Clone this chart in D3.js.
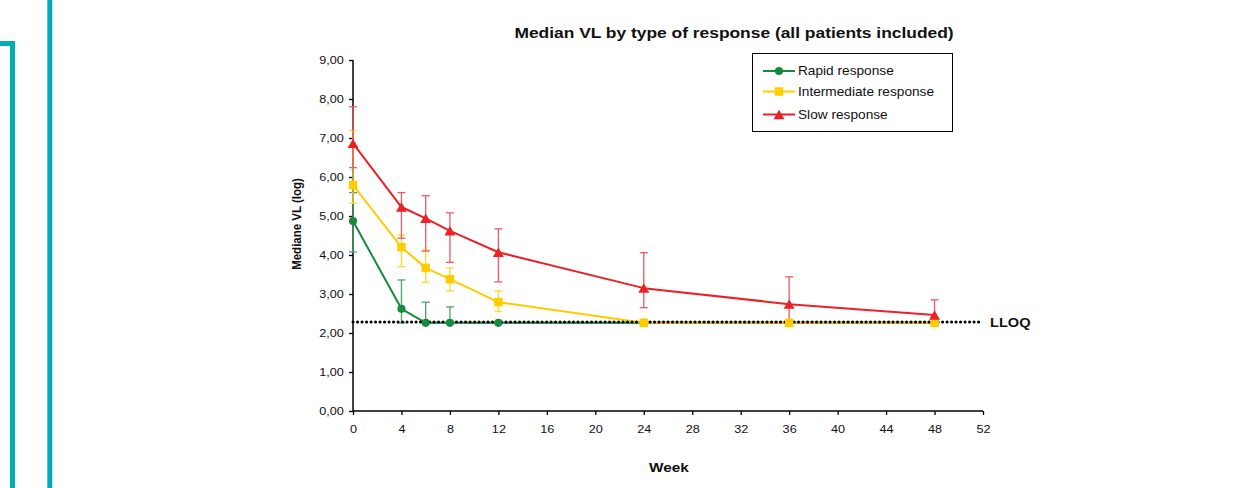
<!DOCTYPE html>
<html>
<head>
<meta charset="utf-8">
<script src="https://cdn.jsdelivr.net/npm/d3@7"></script>
<style>
  body { margin: 0; background: #fff; font-family: "Liberation Sans", Arial, sans-serif; }
  svg text { font-family: "Liberation Sans", Arial, sans-serif; }
</style>
</head>
<body>
<div id="wrapper"></div>
<script>
// weeks on the x axis
const weeks = [0, 4, 6, 8, 12, 24, 36, 48]

// median VL (log) per group
const rapid = [4.87, 2.62, 2.26, 2.26, 2.26, 2.26, 2.26, 2.26]
const intermediate = [5.79, 4.20, 3.67, 3.38, 2.79, 2.26, 2.26, 2.26]
const slow = [6.86, 5.23, 4.94, 4.62, 4.07, 3.15, 2.74, 2.46]

// error bar ends (null = no bar)
const rapidHigh = [5.60, 3.36, 2.79, 2.67, null, null, null, null]
const rapidLow = [4.08, 2.26, 2.26, 2.26, null, null, null, null]
const interHigh = [7.19, 4.51, 4.13, 3.67, 3.08, null, null, null]
const interLow = [5.33, 3.70, 3.30, 3.08, 2.55, null, null, null]
const slowHigh = [7.80, 5.60, 5.52, 5.08, 4.67, 4.06, 3.44, 2.85]
const slowLow = [6.24, 4.43, 4.10, 3.81, 3.31, 2.65, 2.26, 2.26]

const lloq = 2.28
const xTicks = [0, 4, 8, 12, 16, 20, 24, 28, 32, 36, 40, 44, 48, 52]
const yTicks = [0, 1, 2, 3, 4, 5, 6, 7, 8, 9]

const series = [
    {name: "Rapid response", values: rapid, hi: rapidHigh, lo: rapidLow, color: "#178a3e", bar: "#4aa36a", symbol: d3.symbolCircle, size: 52, dy: 0},
    {name: "Intermediate response", values: intermediate, hi: interHigh, lo: interLow, color: "#ffcc00", bar: "#ffd633", symbol: d3.symbolSquare, size: 72, dy: 0},
    {name: "Slow response", values: slow, hi: slowHigh, lo: slowLow, color: "#ec2128", bar: "#ef5a5f", symbol: d3.symbolTriangle, size: 52, dy: 1.5}
]

// the picture is a bit wider than tall, so text gets stretched sideways
const SX = 1.15

const W = 1253, H = 488
const svg = d3.select("#wrapper")
    .append("svg")
    .attr("width", W)
    .attr("height", H)

function label(px, py, txt, size, weight, anchor, sx) {
    return svg.append("text")
        .attr("transform", `translate(${px},${py}) scale(${sx},1)`)
        .attr("text-anchor", anchor)
        .attr("font-size", size)
        .attr("font-weight", weight)
        .attr("fill", "#111")
        .text(txt)
}

// teal frame lines on the left
svg.append("path")
    .attr("d", "M0,43.5 H12.5 V488")
    .attr("fill", "none")
    .attr("stroke", "#00abb6")
    .attr("stroke-width", 5)
svg.append("line")
    .attr("x1", 49.8).attr("x2", 49.8)
    .attr("y1", 0).attr("y2", H)
    .attr("stroke", "#00abb6")
    .attr("stroke-width", 5)

const x = d3.scaleLinear().domain([0, 52]).range([353, 983])
const y = d3.scaleLinear().domain([0, 9]).range([411, 60])

// axes
svg.append("g")
    .attr("transform", "translate(0,411)")
    .call(d3.axisBottom(x).tickValues(xTicks).tickSize(4).tickPadding(10).tickFormat(d3.format("d")))
    .call(g => g.selectAll(".domain").attr("d", "M353,0H983").attr("stroke-width", 1.5))
    .call(g => g.selectAll(".tick line").attr("stroke-width", 1.3))
    .call(g => g.selectAll("text").attr("font-size", 11).attr("fill", "#111").attr("transform", `scale(${SX},1)`))

svg.append("g")
    .attr("transform", "translate(353,0)")
    .call(d3.axisLeft(y).tickValues(yTicks).tickSize(4).tickPadding(4).tickFormat(d => d3.format(".2f")(d).replace(".", ",")))
    .call(g => g.selectAll(".domain").attr("d", "M0,60V411").attr("stroke-width", 1.5))
    .call(g => g.selectAll(".tick line").attr("stroke-width", 1.3))
    .call(g => g.selectAll("text").attr("font-size", 11).attr("fill", "#111").attr("transform", `scale(${SX},1)`))

// labels
label(734, 38, "Median VL by type of response (all patients included)", 14.5, "bold", "middle", 1.2)
label(669, 472, "Week", 13, "bold", "middle", 1.18)
label(990, y(lloq) + 5, "LLOQ", 12.5, "bold", "start", 1.17)

svg.append("text")
    .attr("transform", "translate(301,224) scale(1.15,1) rotate(-90)")
    .attr("text-anchor", "middle")
    .attr("font-size", 11.5).attr("font-weight", "bold")
    .attr("fill", "#111")
    .text("Mediane VL (log)")

const line = d3.line()
    .x((d, i) => x(weeks[i]))
    .y(d => y(d))

// error bars
series.forEach(function(s) {
    const g = svg.append("g")
    weeks.forEach(function(w, i) {
        if (s.hi[i] == null) return
        const cx = x(w)
        g.append("line").attr("x1", cx).attr("x2", cx).attr("y1", y(s.hi[i])).attr("y2", y(s.lo[i]))
            .attr("stroke", s.bar).attr("stroke-width", 1.3)
        ;[s.hi[i], s.lo[i]].forEach(function(v) {
            g.append("line").attr("x1", cx - 4).attr("x2", cx + 4).attr("y1", y(v)).attr("y2", y(v))
                .attr("stroke", s.bar).attr("stroke-width", 1.3)
        })
    })
})

// lines
series.forEach(function(s) {
    svg.append("path")
        .datum(s.values)
        .attr("d", line)
        .attr("fill", "none")
        .attr("stroke", s.color)
        .attr("stroke-width", 2)
        .attr("stroke-linejoin", "round")
})

// LLOQ dotted line
svg.append("line")
    .attr("x1", x(0)).attr("x2", 979)
    .attr("y1", y(lloq)).attr("y2", y(lloq))
    .attr("stroke", "#000")
    .attr("stroke-width", 3)
    .attr("stroke-linecap", "round")
    .attr("stroke-dasharray", "0.1 4.4")

// markers
series.forEach(function(s) {
    svg.append("g")
        .selectAll("path")
        .data(s.values)
        .enter()
        .append("path")
        .attr("transform", (d, i) => `translate(${x(weeks[i])},${y(d) + s.dy})`)
        .attr("d", d3.symbol().type(s.symbol).size(s.size))
        .attr("fill", s.color)
})

// legend
const legend = svg.append("g")
legend.append("rect")
    .attr("x", 752.5).attr("y", 53.5)
    .attr("width", 200).attr("height", 78)
    .attr("fill", "#fff")
    .attr("stroke", "#000")
    .attr("stroke-width", 1)
const legendY = [71, 91.5, 114.5]
series.forEach(function(s, i) {
    const ly = legendY[i]
    legend.append("line").attr("x1", 763).attr("x2", 795).attr("y1", ly).attr("y2", ly)
        .attr("stroke", s.color).attr("stroke-width", 2)
    legend.append("path")
        .attr("transform", `translate(779,${ly + s.dy})`)
        .attr("d", d3.symbol().type(s.symbol).size(s.size))
        .attr("fill", s.color)
    legend.append("text")
        .attr("transform", `translate(798,${ly + 4}) scale(1.14,1)`)
        .attr("font-size", 12)
        .attr("fill", "#111")
        .text(s.name)
})
</script>
</body>
</html>
